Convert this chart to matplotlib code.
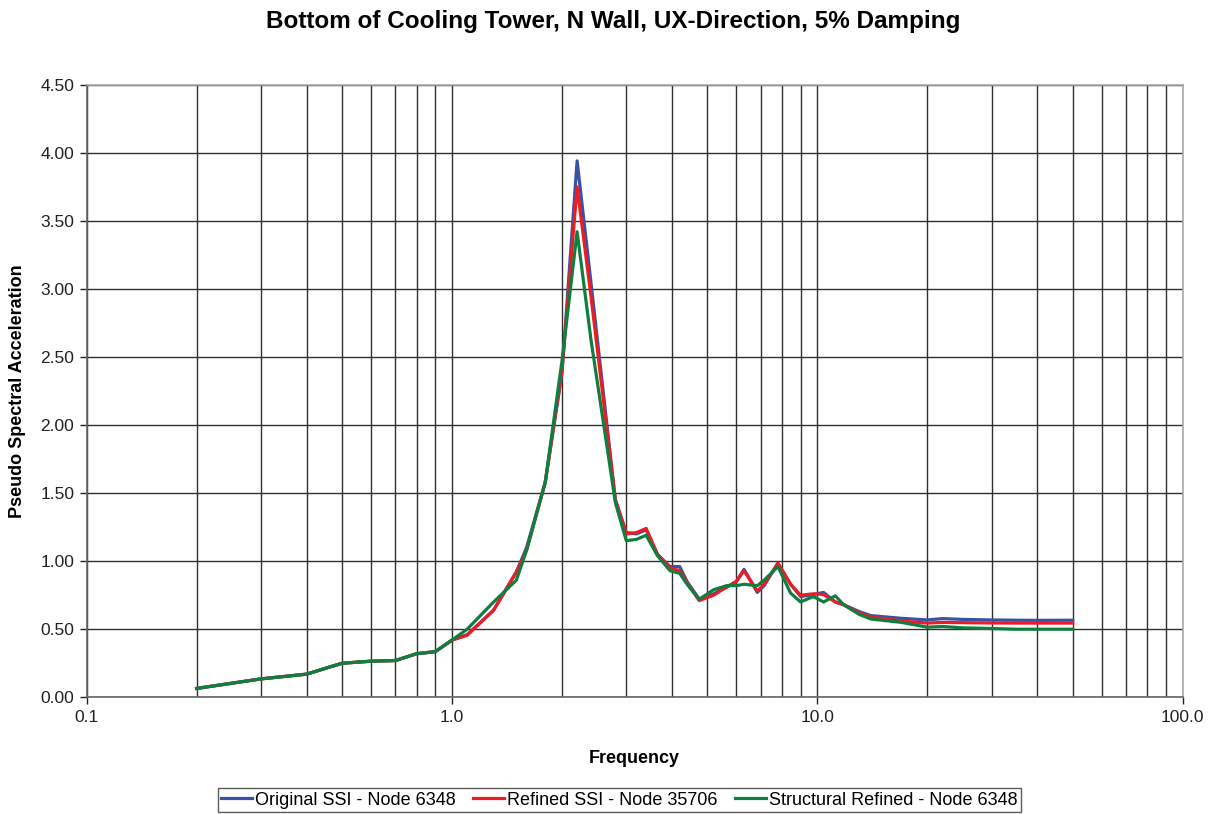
#!/usr/bin/env python3
"""Pseudo spectral acceleration, bottom of cooling tower, N wall, UX direction"""
import matplotlib
matplotlib.use('Agg')
import matplotlib.pyplot as plt
from matplotlib.ticker import FixedLocator, FuncFormatter, NullFormatter

plt.rcParams['font.family'] = ['Liberation Sans', 'DejaVu Sans']

# ---------- data ----------
freq = [0.2, 0.3, 0.4, 0.5, 0.6, 0.7, 0.8, 0.9, 1.0, 1.1, 1.3, 1.5, 1.6, 1.8,
        2.0, 2.2, 2.4, 2.8, 3.0, 3.2, 3.4, 3.65, 3.95, 4.2, 4.4, 4.75, 5.2,
        5.65, 6.0, 6.3, 6.85, 7.15, 7.8, 8.45, 9.0, 9.75, 10.4, 11.2, 11.8,
        13.0, 14.0, 17.0, 20.0, 22.0, 25.0, 30.0, 35.0, 40.0, 50.0]

original_ssi = [0.065, 0.135, 0.17, 0.25, 0.265, 0.27, 0.32, 0.335, 0.42, 0.46,
                0.64, 0.92, 1.10, 1.58, 2.38, 3.94, 3.05, 1.45, 1.21, 1.20, 1.23,
                1.05, 0.96, 0.96, 0.85, 0.72, 0.76, 0.81, 0.85, 0.94, 0.77, 0.82,
                0.985, 0.83, 0.74, 0.755, 0.77, 0.70, 0.68, 0.63, 0.60, 0.58,
                0.568, 0.578, 0.572, 0.568, 0.566, 0.565, 0.566]

refined_ssi = [0.065, 0.135, 0.17, 0.25, 0.265, 0.27, 0.32, 0.335, 0.42, 0.455,
               0.64, 0.92, 1.08, 1.58, 2.40, 3.75, 2.95, 1.45, 1.20, 1.21, 1.24,
               1.05, 0.95, 0.93, 0.84, 0.71, 0.75, 0.81, 0.85, 0.93, 0.78, 0.83,
               0.985, 0.83, 0.75, 0.76, 0.755, 0.70, 0.68, 0.62, 0.59, 0.56,
               0.545, 0.55, 0.548, 0.546, 0.545, 0.545, 0.545]

structural_refined = [0.065, 0.135, 0.17, 0.25, 0.265, 0.27, 0.32, 0.335, 0.42,
                      0.50, 0.70, 0.86, 1.08, 1.58, 2.47, 3.42, 2.63, 1.43, 1.15,
                      1.16, 1.19, 1.04, 0.93, 0.91, 0.83, 0.72, 0.79, 0.82, 0.82,
                      0.83, 0.82, 0.86, 0.96, 0.765, 0.70, 0.74, 0.70, 0.745,
                      0.68, 0.61, 0.575, 0.55, 0.515, 0.52, 0.51, 0.505, 0.50,
                      0.50, 0.50]

series = [
    ('Original SSI - Node 6348', original_ssi, '#3953A4'),
    ('Refined SSI - Node 35706', refined_ssi, '#ED1C24'),
    ('Structural Refined - Node 6348', structural_refined, '#0E7F3E'),
]

# ---------- figure ----------
fig = plt.figure(figsize=(12.19, 8.14), dpi=100)
ax = fig.add_axes([0.0711, 0.1434, 0.8991, 0.7526])

for label, vals, color in series:
    ax.plot(freq, vals, color=color, lw=2.3, label=label, solid_joinstyle='round')

ax.set_xscale('log')
ax.set_xlim(0.1, 100)
ax.set_ylim(0, 4.5)

ax.xaxis.set_major_locator(FixedLocator([0.1, 1, 10, 100]))
ax.xaxis.set_major_formatter(FuncFormatter(lambda v, p: f'{v:.1f}'))
minors = [m * d for d in (0.1, 1, 10) for m in range(2, 10)]
ax.xaxis.set_minor_locator(FixedLocator(minors))
ax.xaxis.set_minor_formatter(NullFormatter())
ax.set_yticks([i * 0.5 for i in range(10)])
ax.yaxis.set_major_formatter(FuncFormatter(lambda v, p: f'{v:.2f}'))

ax.grid(True, which='both', axis='x', color='#303030', lw=1.0)
ax.grid(True, which='major', axis='y', color='#303030', lw=1.0)
ax.set_axisbelow(True)

ax.tick_params(which='major', length=5, width=1, colors='#222222', labelsize=12.5, pad=4)
ax.tick_params(which='minor', length=0)
for side, sp in ax.spines.items():
    sp.set_color('#666666' if side in ('left', 'bottom') else '#aaaaaa')
    sp.set_linewidth(1.2)

ax.set_xlabel('Frequency', fontsize=13, fontweight='bold', labelpad=18)
ax.set_ylabel('Pseudo Spectral Acceleration', fontsize=13, fontweight='bold', labelpad=10)
fig.suptitle('Bottom of Cooling Tower, N Wall, UX-Direction, 5% Damping',
             fontsize=17.5, fontweight='bold', x=0.503, y=0.988)

leg = fig.legend(loc='lower center', bbox_to_anchor=(0.508, -0.009), ncol=3,
                 fontsize=13, frameon=True, fancybox=False, handlelength=1.7,
                 handletextpad=0.15, columnspacing=1.0, borderpad=0.2)
leg.get_frame().set_edgecolor('#333333')
leg.get_frame().set_linewidth(1.0)

fig.savefig('out.png', dpi=100, facecolor='white')
